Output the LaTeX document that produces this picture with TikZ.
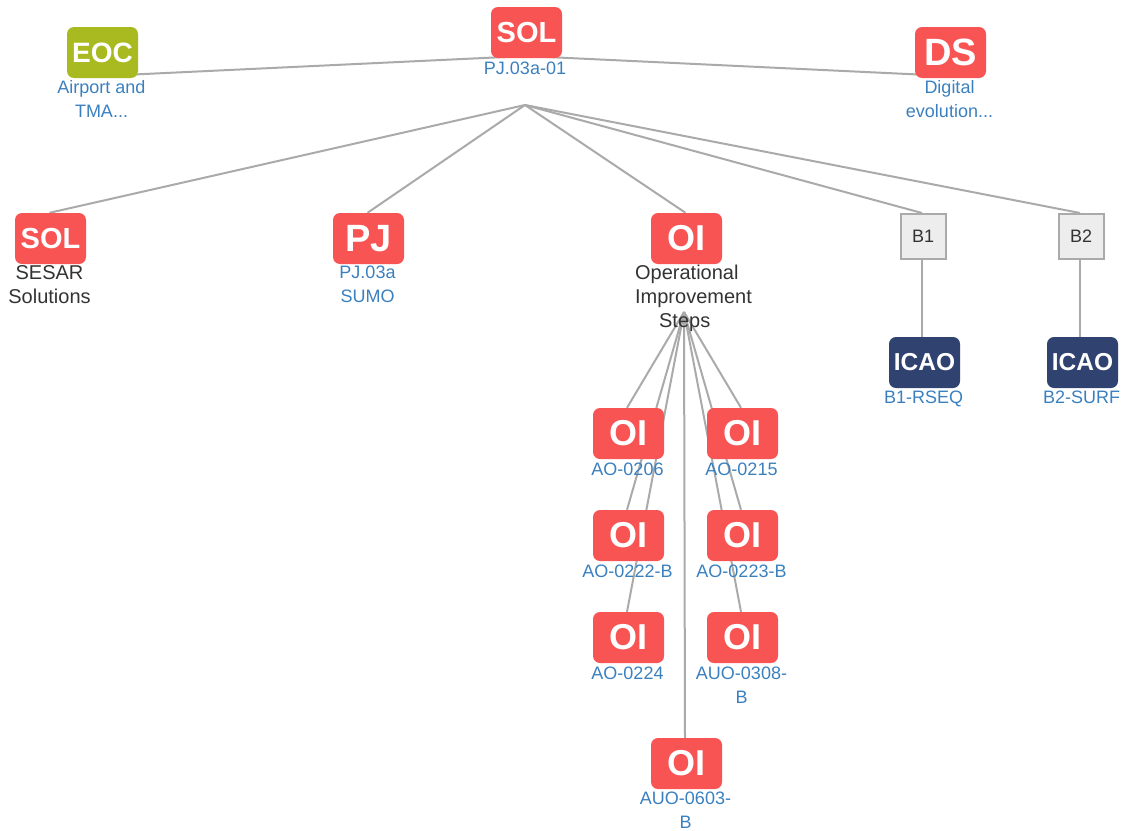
\documentclass[tikz,border=0pt]{standalone}
\usepackage{fontspec}
\setmainfont{Liberation Sans}
\usetikzlibrary{backgrounds}
\definecolor{solred}{HTML}{F95454}
\definecolor{eocgreen}{HTML}{A9BA20}
\definecolor{icaoblue}{HTML}{2F4270}
\definecolor{linkblue}{HTML}{3A80BF}
\definecolor{darktext}{HTML}{333333}
\definecolor{edgegray}{HTML}{AAAAAA}
\tikzset{
  badge/.style={rounded corners=7pt, minimum width=71pt, minimum height=51pt, inner sep=0pt, text=white, font=\fontsize{#1}{#1}\selectfont\bfseries},
  solbox/.style={badge=#1, fill=solred},
  eocbox/.style={badge=28, fill=eocgreen},
  icaobox/.style={badge=24.5, fill=icaoblue},
  levelbox/.style={draw=edgegray, line width=2pt, fill=black!7, minimum width=45pt, minimum height=45pt, inner sep=0pt, text=darktext, font=\fontsize{18}{24}\selectfont},
  caption/.style={align=center, inner sep=0pt, text=linkblue, font=\fontsize{18}{24}\selectfont},
  darkcaption/.style={caption, text=darktext, font=\fontsize{20}{24}\selectfont},
  link/.style={draw=edgegray, line width=2pt}
}
\begin{document}
\begin{tikzpicture}[x=1pt, y=-1pt]
\useasboundingbox (0,0) rectangle (1127,830);
% top row
\node[solbox=29] (solmain) at (526.5,32.5) {SOL};
\node[eocbox] (eoc) at (102.5,52.5) {EOC};
\node[solbox=38] (ds) at (950.5,52.5) {DS};
\node[caption] (solmaintxt) at (525,68) {PJ.03a-01};
\node[caption] (eoctxt) at (101.5,99) {Airport and\\TMA...};
\node[caption] (dstxt) at (949.5,99) {Digital\\evolution...};
% second row
\node[solbox=29] (solset) at (50.5,238.5) {SOL};
\node[solbox=38] (pj) at (368.5,238.5) {PJ};
\node[solbox=36] (oi) at (686.5,238.5) {OI};
\node[levelbox] (bone) at (923,236.5) {B1};
\node[levelbox] (btwo) at (1081,236.5) {B2};
\node[darkcaption] (solsettxt) at (49.5,285) {SESAR\\Solutions};
\node[caption] (pjtxt) at (367.5,284.5) {PJ.03a\\SUMO};
\node[darkcaption, align=left] (oitxt) at (693.5,298) {Operational\\Improvement\\\hspace*{24pt}Steps};
% ICAO blocks
\node[icaobox] (icaoone) at (924.5,362.5) {ICAO};
\node[icaobox] (icaotwo) at (1082.5,362.5) {ICAO};
\node[caption] (icaoonetxt) at (923.5,398.5) {B1-RSEQ};
\node[caption] (icaotwotxt) at (1081.5,397) {B2-SURF};
% improvement steps
\foreach \n/\x/\y/\t in {aoa/628.5/433.5/AO-0206, aob/628.5/535.5/AO-0222-B, aoc/628.5/637.5/AO-0224, aod/742.5/433.5/AO-0215, aoe/742.5/535.5/AO-0223-B}
{
\node[solbox=36] (\n) at (\x,\y) {OI};
\node[caption] (\n txt) at (\x-1,\y+35.5) {\t};
}
\node[solbox=36] (aof) at (742.5,637.5) {OI};
\node[caption] (aoftxt) at (741.5,685) {AUO-0308-\\B};
\node[solbox=36] (aog) at (686.5,763.5) {OI};
\node[caption] (aogtxt) at (685.5,810.5) {AUO-0603-\\B};
% connectors
\coordinate (tophub) at (526,56);
\coordinate (eocend) at (102,76);
\coordinate (dsend) at (950,76);
\coordinate (solhub) at (525,105);
\coordinate (oihub) at (684,312);
\begin{scope}[on background layer]
\draw[link] (tophub)--(eocend);
\draw[link] (tophub)--(dsend);
\foreach \n in {solset, pj, oi, bone, btwo} \draw[link] (solhub)--([xshift=-1pt]\n.north);
\draw[link] ([xshift=-1pt]bone.south)--([xshift=-1pt]icaoone.north -| bone);
\draw[link] ([xshift=-1pt]btwo.south)--([xshift=-1pt]icaotwo.north -| btwo);
\foreach \n in {aoa, aob, aoc, aod, aoe, aof, aog} \draw[link] (oihub)--([xshift=-1.5pt]\n.north);
\end{scope}
\end{tikzpicture}
\end{document}
